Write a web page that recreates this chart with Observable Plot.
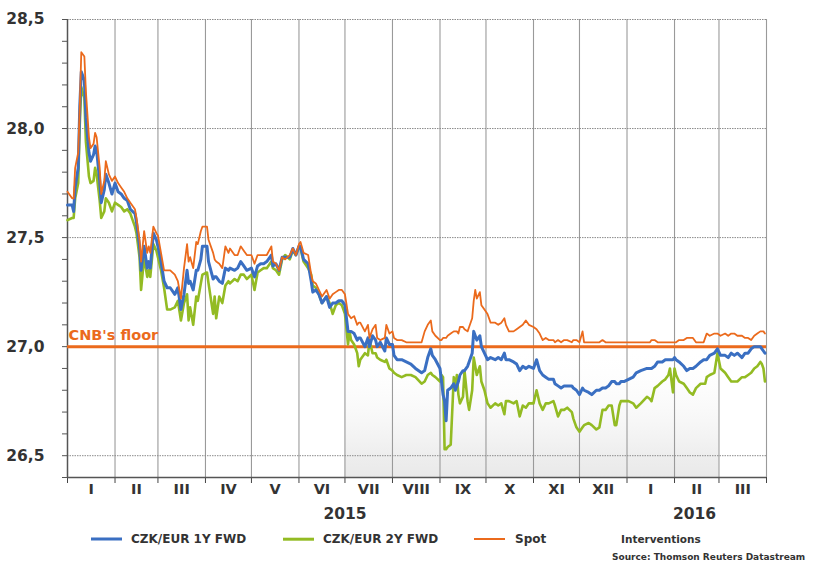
<!DOCTYPE html>
<html><head><meta charset="utf-8">
<script src="https://cdn.jsdelivr.net/npm/d3@7"></script>
<script src="https://cdn.jsdelivr.net/npm/@observablehq/plot@0.6"></script>
<style>
body{margin:0;background:#fff;width:814px;height:563px;overflow:hidden;font-family:"DejaVu Sans",sans-serif;}
#wrap{position:relative;width:814px;height:563px;overflow:hidden;}
.leg{position:absolute;font-weight:bold;color:#333;white-space:nowrap;line-height:1;transform:translateY(-50%);}
.sw{position:absolute;transform:translateY(-50%);}
</style></head><body><div id="wrap"></div>
<script>
// days since 2015-01-01
const days = [0,3,4,5,7,8,9,11,12,14,15,17,18,19,21,22,24,25,27,29,31,33,35,37,39,41,44,45,47,48,50,52,53,54,56,58,59,61,63,65,67,70,72,74,76,78,79,80,82,84,85,87,88,91,92,95,96,97,99,101,103,105,106,109,111,113,115,117,120,122,124,126,128,130,133,134,136,138,140,142,145,147,149,151,152,154,157,159,160,162,164,166,169,171,173,175,177,179,181,183,184,185,187,189,190,191,194,196,197,199,201,202,204,207,208,210,212,213,215,218,221,224,227,231,233,235,237,238,240,243,244,245,246,247,248,250,252,253,254,255,256,258,259,261,262,264,265,266,267,269,270,272,274,276,279,281,283,285,286,288,291,293,295,297,299,301,304,306,308,310,312,314,317,318,320,322,324,326,329,330,332,334,336,337,340,342,345,347,349,351,353,355,357,358,360,361,363,366,369,371,374,378,380,381,383,385,388,390,392,393,395,396,397,399,402,404,406,408,410,413,415,416,417,419,422,424,426,429,431,433,435,437,440,442,444,446,448,450,452,453,454,455];
const spot = [27.71,27.68,27.68,27.82,27.89,28.10,28.35,28.33,28.17,27.96,27.91,27.93,27.98,27.96,27.82,27.70,27.76,27.85,27.79,27.76,27.78,27.75,27.73,27.71,27.68,27.66,27.63,27.59,27.49,27.39,27.53,27.43,27.46,27.43,27.55,27.52,27.51,27.43,27.35,27.35,27.35,27.33,27.30,27.22,27.36,27.47,27.39,27.41,27.36,27.48,27.47,27.53,27.55,27.55,27.49,27.43,27.40,27.39,27.38,27.36,27.46,27.43,27.45,27.42,27.42,27.46,27.44,27.42,27.42,27.38,27.42,27.42,27.42,27.42,27.46,27.39,27.38,27.35,27.41,27.40,27.42,27.45,27.42,27.47,27.48,27.43,27.42,27.33,27.30,27.29,27.26,27.23,27.26,27.22,27.24,27.25,27.26,27.26,27.24,27.15,27.14,27.13,27.14,27.10,27.11,27.11,27.07,27.10,27.04,27.08,27.10,27.04,27.03,27.04,27.10,27.06,27.07,27.04,27.03,27.03,27.02,27.02,27.02,27.02,27.07,27.10,27.12,27.07,27.05,27.03,27.03,27.04,27.04,27.04,27.05,27.06,27.07,27.07,27.07,27.06,27.09,27.09,27.08,27.07,27.09,27.13,27.21,27.26,27.22,27.25,27.19,27.17,27.15,27.11,27.11,27.10,27.11,27.13,27.10,27.07,27.07,27.08,27.09,27.10,27.12,27.10,27.09,27.08,27.06,27.03,27.04,27.03,27.03,27.02,27.03,27.02,27.03,27.03,27.02,27.03,27.03,27.02,27.07,27.02,27.02,27.02,27.02,27.02,27.03,27.02,27.02,27.02,27.02,27.02,27.02,27.02,27.02,27.02,27.02,27.02,27.02,27.02,27.02,27.03,27.03,27.02,27.02,27.02,27.02,27.02,27.02,27.02,27.02,27.03,27.03,27.04,27.04,27.04,27.02,27.02,27.02,27.04,27.06,27.05,27.06,27.06,27.05,27.06,27.05,27.06,27.06,27.05,27.05,27.04,27.04,27.03,27.05,27.06,27.07,27.07,27.07,27.06,27.03];
const fwd1y = [27.65,27.65,27.62,27.73,27.82,28.10,28.26,28.22,28.05,27.89,27.85,27.88,27.92,27.90,27.76,27.66,27.72,27.79,27.75,27.70,27.75,27.71,27.70,27.68,27.67,27.63,27.61,27.57,27.46,27.35,27.46,27.36,27.39,27.36,27.52,27.49,27.46,27.39,27.30,27.27,27.27,27.24,27.27,27.17,27.24,27.35,27.29,27.30,27.26,27.35,27.35,27.40,27.46,27.46,27.39,27.31,27.32,27.32,27.30,27.29,27.36,27.35,27.36,27.35,27.36,27.39,27.37,27.35,27.36,27.32,27.37,27.38,27.38,27.39,27.42,27.37,27.38,27.35,27.41,27.41,27.41,27.45,27.42,27.46,27.46,27.40,27.38,27.30,27.25,27.26,27.24,27.20,27.23,27.18,27.20,27.20,27.21,27.21,27.19,27.07,27.07,27.07,27.06,27.03,27.04,27.04,27.00,27.04,27.00,27.05,27.03,27.00,27.02,26.98,27.04,27.01,27.01,26.96,26.94,26.94,26.93,26.92,26.90,26.88,26.89,26.95,26.99,26.96,26.94,26.90,26.84,26.78,26.75,26.66,26.80,26.81,26.83,26.80,26.82,26.84,26.87,26.89,26.89,26.91,26.93,26.97,27.07,27.05,27.03,27.05,27.00,26.97,26.94,26.95,26.94,26.95,26.94,26.97,26.94,26.94,26.93,26.92,26.89,26.91,26.90,26.91,26.90,26.94,26.89,26.87,26.86,26.85,26.85,26.83,26.82,26.81,26.82,26.82,26.82,26.81,26.80,26.78,26.81,26.80,26.79,26.78,26.80,26.80,26.81,26.81,26.82,26.84,26.84,26.83,26.83,26.84,26.84,26.85,26.86,26.88,26.89,26.90,26.90,26.90,26.91,26.93,26.93,26.94,26.94,26.94,26.94,26.95,26.94,26.93,26.91,26.89,26.90,26.90,26.91,26.93,26.94,26.94,26.94,26.96,26.97,26.99,26.96,26.96,26.95,26.97,26.96,26.97,26.95,26.97,26.97,26.99,27.00,27.00,27.00,26.99,26.98,26.97];
const fwd2y = [27.58,27.59,27.59,27.68,27.75,28.02,28.19,28.14,27.94,27.78,27.75,27.76,27.82,27.79,27.67,27.59,27.62,27.68,27.66,27.62,27.66,27.65,27.64,27.62,27.63,27.61,27.55,27.52,27.41,27.26,27.41,27.32,27.35,27.32,27.47,27.44,27.41,27.35,27.27,27.17,27.17,27.18,27.21,27.12,27.20,27.24,27.12,27.18,27.10,27.23,27.21,27.29,27.33,27.34,27.29,27.15,27.23,27.13,27.23,27.20,27.28,27.30,27.29,27.31,27.30,27.33,27.33,27.31,27.33,27.26,27.34,27.35,27.36,27.36,27.39,27.36,27.35,27.33,27.40,27.42,27.40,27.44,27.42,27.46,27.45,27.39,27.36,27.33,27.28,27.27,27.24,27.20,27.23,27.20,27.15,27.19,27.20,27.19,27.15,27.01,27.07,27.03,27.01,26.97,26.91,26.94,26.97,26.96,27.03,26.97,26.97,26.95,26.94,26.93,26.94,26.90,26.89,26.88,26.87,26.86,26.87,26.87,26.86,26.83,26.84,26.87,26.88,26.87,26.86,26.84,26.87,26.86,26.53,26.53,26.54,26.55,26.86,26.81,26.87,26.78,26.74,26.77,26.89,26.75,26.71,26.80,26.95,26.91,26.87,26.91,26.84,26.80,26.74,26.72,26.74,26.73,26.74,26.69,26.75,26.75,26.74,26.75,26.68,26.73,26.72,26.74,26.74,26.80,26.74,26.71,26.74,26.74,26.75,26.73,26.68,26.71,26.71,26.72,26.70,26.67,26.63,26.61,26.63,26.64,26.65,26.64,26.62,26.63,26.71,26.71,26.73,26.73,26.64,26.64,26.73,26.75,26.75,26.75,26.74,26.72,26.74,26.77,26.76,26.75,26.81,26.82,26.84,26.85,26.87,26.90,26.79,26.90,26.87,26.84,26.83,26.81,26.79,26.78,26.81,26.83,26.83,26.83,26.86,26.87,26.88,26.97,26.90,26.88,26.86,26.84,26.84,26.84,26.86,26.86,26.87,26.88,26.90,26.91,26.93,26.92,26.90,26.84];

const monthLabels = ["I","II","III","IV","V","VI","VII","VIII","IX","X","XI","XII","I","II","III"];
const yearLabels = ["2015","2016"];
const yearDays = [181, 409];
const interventionDays = [181, 425];
const floorValue = 27.0;
const yMajor = [26.5, 27.0, 27.5, 28.0, 28.5];
const seriesNames = ["CZK/EUR 1Y FWD", "CZK/EUR 2Y FWD", "Spot"];

const cBlue = "#3a6fc2", cGreen = "#93bb23", cOrange = "#eb6a1c";
const day = d => new Date(Date.UTC(2015, 0, 1 + d));
const data = days.map((d, i) => ({date: day(d), spot: spot[i], f1: fwd1y[i], f2: fwd2y[i]}));
const monthStarts = d3.range(16).map(m => new Date(Date.UTC(2015, m, 1)));
const months = monthLabels.map((l, i) => ({label: l, mid: new Date((+monthStarts[i] + +monthStarts[i + 1]) / 2)}));
const years = yearLabels.map((l, i) => ({label: l, date: day(yearDays[i])}));
const yMinor = d3.range(0, 22).map(i => +(26.4 + i * 0.1).toFixed(1));

const gradient = () => {
  const ns = "http://www.w3.org/2000/svg";
  const defs = document.createElementNS(ns, "defs");
  defs.innerHTML = '<linearGradient id="intv" x1="0" y1="0" x2="0" y2="1"><stop offset="0" stop-color="#ffffff" stop-opacity="0"/><stop offset="0.8" stop-color="#efefef"/><stop offset="1" stop-color="#e9e9e9"/></linearGradient>';
  return defs;
};

const chart = Plot.plot({
  width: 814, height: 530,
  marginLeft: 67, marginRight: 48, marginTop: 19, marginBottom: 53,
  style: {fontFamily: "DejaVu Sans, sans-serif", background: "white", overflow: "visible"},
  x: {type: "utc", domain: [monthStarts[0], monthStarts[15]]},
  y: {domain: [26.4, 28.5]},
  marks: [
    gradient,
    Plot.rect([{a: day(interventionDays[0]), b: day(interventionDays[1])}], {x1: "a", x2: "b", y1: 26.4, y2: floorValue, fill: "url(#intv)"}),
    Plot.ruleX(monthStarts.slice(1), {stroke: "#9a9a9a", strokeWidth: 1.1}),
    Plot.ruleY(yMajor, {stroke: "#8a8a8a", strokeWidth: 1, strokeDasharray: "1.5,1"}),
    Plot.axisY({ticks: yMinor, tickSize: 5, tickFormat: () => "", stroke: "#555", label: null}),
    Plot.axisY({ticks: yMajor, tickSize: 0, tickPadding: 23, tickFormat: d => d.toFixed(1).replace(".", ","), fontSize: 15.5, fontWeight: "bold", fill: "#333", label: null}),
    Plot.axisX({ticks: monthStarts, tickSize: 6, tickFormat: () => "", stroke: "#444", label: null}),
    Plot.ruleX([monthStarts[0]], {stroke: "#555", strokeWidth: 1.5}),
    Plot.ruleY([26.4], {stroke: "#555", strokeWidth: 1.5}),
    Plot.text(months, {x: "mid", text: "label", frameAnchor: "bottom", dy: 16, fontSize: 14.5, fontWeight: "bold", fill: "#333"}),
    Plot.text(years, {x: "date", text: "label", frameAnchor: "bottom", dy: 41, fontSize: 15.5, fontWeight: "bold", fill: "#333"}),
    Plot.ruleY([floorValue], {stroke: cOrange, strokeWidth: 3}),
    Plot.text(["CNB's floor"], {x: monthStarts[0], y: floorValue, text: d => d, textAnchor: "start", dx: 1, dy: -11, fontSize: 14.5, fontWeight: "bold", fill: cOrange}),
    Plot.line(data, {x: "date", y: "f2", stroke: cGreen, strokeWidth: 2.6, curve: "linear"}),
    Plot.line(data, {x: "date", y: "f1", stroke: cBlue, strokeWidth: 3, curve: "linear"}),
    Plot.line(data, {x: "date", y: "spot", stroke: cOrange, strokeWidth: 1.8, curve: "linear"})
  ]
});

const wrap = document.getElementById("wrap");
wrap.appendChild(chart);
chart.style.position = "absolute"; chart.style.left = "0"; chart.style.top = "0";

const legendItems = [
  {name: seriesNames[0], color: cBlue, w: 3, sx: 91, tx: 131},
  {name: seriesNames[1], color: cGreen, w: 2.6, sx: 283, tx: 323},
  {name: seriesNames[2], color: cOrange, w: 2, sx: 474, tx: 515}
];
for (const it of legendItems) {
  const s = document.createElement("div");
  s.className = "sw";
  s.style.cssText = `left:${it.sx}px;top:539px;width:31px;height:${it.w}px;background:${it.color};`;
  wrap.appendChild(s);
  const t = document.createElement("div");
  t.className = "leg";
  t.style.cssText = `left:${it.tx}px;top:539px;font-size:12px;`;
  t.textContent = it.name;
  wrap.appendChild(t);
}
const iv = document.createElement("div");
iv.className = "leg";
iv.style.cssText = "left:621px;top:539px;font-size:10.5px;";
iv.textContent = "Interventions";
wrap.appendChild(iv);
const src = document.createElement("div");
src.className = "leg";
src.style.cssText = "left:612px;top:557px;font-size:9px;";
src.textContent = "Source: Thomson Reuters Datastream";
wrap.appendChild(src);
</script>
</body></html>
